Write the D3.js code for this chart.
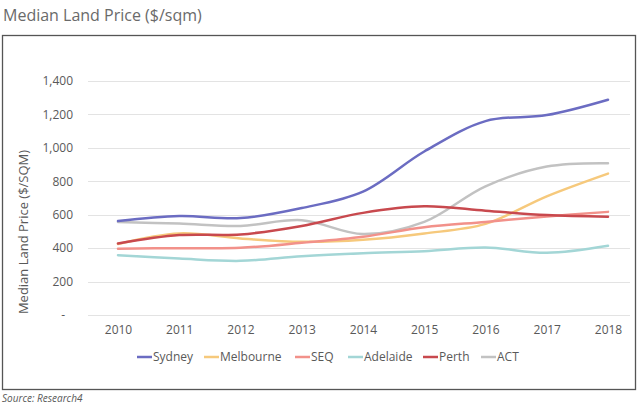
<!DOCTYPE html>
<html><head><meta charset="utf-8">
<script src="https://cdn.jsdelivr.net/npm/d3@7"></script>
<style>body{margin:0;background:#fff}svg{display:block}</style>
</head><body>
<svg id="c" width="640" height="410"></svg>
<script>
const years = [2010, 2011, 2012, 2013, 2014, 2015, 2016, 2017, 2018];
const sydney    = [562, 592, 580, 640, 738, 978, 1160, 1196, 1288];
const melbourne = [425, 488, 458, 438, 450, 488, 545, 710, 846];
const seq       = [397, 400, 402, 432, 468, 525, 557, 590, 617];
const adelaide  = [358, 338, 324, 352, 370, 382, 404, 372, 414];
const perth     = [428, 478, 482, 533, 611, 650, 624, 598, 588];
const act       = [556, 547, 533, 567, 484, 557, 770, 888, 908];
const seriesNames = ["Sydney", "Melbourne", "SEQ", "Adelaide", "Perth", "ACT"];
const seriesColors = ["#6b6cc2", "#f6c97c", "#f2918a", "#a3d6d6", "#c8494e", "#c2c2c2"];
const yTicks = [0, 200, 400, 600, 800, 1000, 1200, 1400];

const seriesValues = [sydney, melbourne, seq, adelaide, perth, act];
const series = seriesNames.map((n, i) => ({name: n, color: seriesColors[i], values: seriesValues[i]}));

const svg = d3.select("#c");
const font = "'Open Sans', 'Noto Sans', sans-serif";

svg.append("text").attr("x", 3).attr("y", 21)
  .attr("font-family", font).attr("font-size", 16).attr("fill", "#6a6a6a")
  .text("Median Land Price ($/sqm)");

svg.append("rect").attr("x", 2.5).attr("y", 35.5).attr("width", 633).attr("height", 354)
  .attr("fill", "#fff").attr("stroke", "#555").attr("stroke-width", 1.3);

const x = d3.scaleLinear().domain([2010, 2018]).range([118, 608]);
const y = d3.scaleLinear().domain([0, 1400]).range([315, 81]);

// gridlines
svg.append("g").selectAll("line").data(yTicks).join("line")
  .attr("x1", 88).attr("x2", 630)
  .attr("y1", d => Math.round(y(d)) + 0.5).attr("y2", d => Math.round(y(d)) + 0.5)
  .attr("stroke", "#e3e3e3").attr("stroke-width", 1);

// y axis labels
const yAxis = d3.axisLeft(y).tickValues(yTicks).tickSize(0).tickPadding(0)
  .tickFormat(d => d === 0 ? "-" : d3.format(",")(d));
const gy = svg.append("g").attr("transform", "translate(73,0)").call(yAxis);
gy.select(".domain").remove();
gy.selectAll("text").attr("font-family", font).attr("font-size", 12).attr("fill", "#595959")
  .attr("dx", d => d === 0 ? -8 : 0);

// x axis labels
const xAxis = d3.axisBottom(x).tickValues(years).tickSize(0).tickPadding(0).tickFormat(d3.format("d"));
const gx = svg.append("g").attr("transform", "translate(0,325)").call(xAxis);
gx.select(".domain").remove();
gx.selectAll("text").attr("font-family", font).attr("font-size", 12).attr("fill", "#595959");

// y axis title
svg.append("text").attr("transform", "translate(28,232) rotate(-90)")
  .attr("text-anchor", "middle").attr("font-family", font).attr("font-size", 13).attr("fill", "#595959")
  .text("Median Land Price ($/SQM)");

// lines
const line = d3.line().x((d, i) => x(years[i])).y(d => y(d)).curve(d3.curveCatmullRom.alpha(0.5));
const drawOrder = [5, 1, 2, 3, 4, 0];
svg.append("g").selectAll("path").data(drawOrder.map(i => series[i])).join("path")
  .attr("d", d => line(d.values)).attr("fill", "none")
  .attr("stroke", d => d.color).attr("stroke-width", 2.5).attr("stroke-linecap", "round");

// legend
const legendX = [137, 204, 295, 348, 423, 481];
const lg = svg.append("g").selectAll("g").data(series).join("g")
  .attr("transform", (d, i) => `translate(${legendX[i]},357)`);
lg.append("line").attr("x1", 0).attr("x2", 15).attr("stroke", d => d.color).attr("stroke-width", 2.5);
lg.append("text").attr("x", 16).attr("dy", "0.35em").attr("font-family", font).attr("font-size", 12)
  .attr("fill", "#595959").text(d => d.name);

svg.append("text").attr("x", 2).attr("y", 402)
  .attr("font-family", font).attr("font-size", 10).attr("font-style", "italic").attr("fill", "#595959")
  .text("Source: Research4");
</script>
</body></html>
